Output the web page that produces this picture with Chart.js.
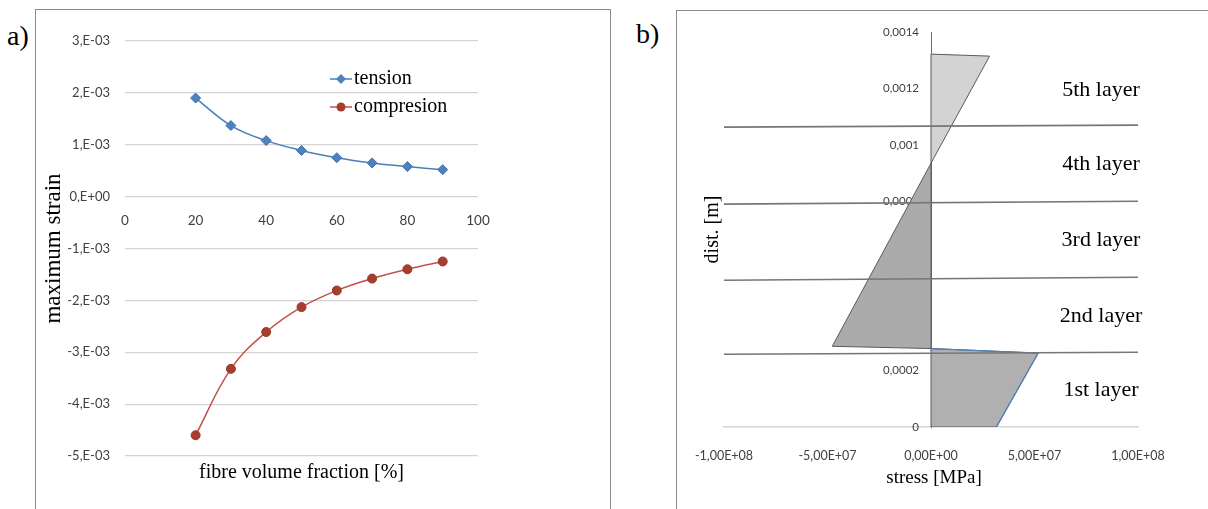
<!DOCTYPE html>
<html>
<head>
<meta charset="utf-8">
<script src="https://cdn.jsdelivr.net/npm/chart.js@4.4.1/dist/chart.umd.min.js"></script>
<style>
  body { margin: 0; background: #fff; width: 1208px; height: 509px; overflow: hidden; position: relative; font-family: "Liberation Serif", "Times New Roman", serif; }
  .frame { position: absolute; border: 1px solid #8c8c8c; box-sizing: border-box; }
  #frameA { left: 35px; top: 9px; width: 576px; height: 540px; }
  #frameB { left: 676px; top: 10px; width: 580px; height: 540px; }
  .tag { position: absolute; font-size: 28px; line-height: 1; color: #000; }
  canvas { position: absolute; }
  #chartA { left: 36px; top: 10px; }
  #chartB { left: 677px; top: 11px; }
</style>
</head>
<body>
<div class="frame" id="frameA"></div>
<div class="frame" id="frameB"></div>
<div class="tag" style="left:7px; top:22px;">a)</div>
<div class="tag" style="left:636px; top:20px;">b)</div>
<canvas id="chartA" width="573" height="499"></canvas>
<canvas id="chartB" width="531" height="498"></canvas>
<script>
// --- panel a data ---
const fibreFraction = [20, 30, 40, 50, 60, 70, 80, 90];
const tensionStrain = [1.90e-3, 1.37e-3, 1.08e-3, 0.89e-3, 0.75e-3, 0.65e-3, 0.58e-3, 0.52e-3];
const compressionStrain = [-4.60e-3, -3.32e-3, -2.61e-3, -2.13e-3, -1.81e-3, -1.58e-3, -1.40e-3, -1.25e-3];
const seriesNames = ["tension", "compresion"];

// --- panel b data ---
// stress profile polygons (stress [Pa], dist [m]), closed
const stressTop = [0, 2.83e7, 0, 0];
const distTop = [1.3216e-3, 1.3145e-3, 0.935e-3, 1.3216e-3];
const stressMid = [0, -4.77e7, 0, 0];
const distMid = [0.935e-3, 0.286e-3, 0.278e-3, 0.935e-3];
const stressLow = [0, 5.18e7, 3.16e7, 0, 0];
const distLow = [0.278e-3, 0.262e-3, 0, 0, 0.278e-3];
// layer boundary lines, from -1E8 to 1E8
const layerLineEnds = [-1e8, 1e8];
const layerLeft = [1.063e-3, 0.790e-3, 0.520e-3, 0.258e-3];
const layerRight = [1.070e-3, 0.800e-3, 0.531e-3, 0.265e-3];
const layerNames = ["1st layer", "2nd layer", "3rd layer", "4th layer", "5th layer"];
const layerBounds = [0, 0.2615e-3, 0.5255e-3, 0.795e-3, 1.0665e-3, 1.32e-3];

const serif = '"Liberation Serif", "Times New Roman", serif';
const sans = 'Lato, "Noto Sans", sans-serif';

function pts(xs, ys) {
  return xs.map((x, i) => ({ x: x, y: ys[i] }));
}

function fmtStrain(v) {
  if (Math.abs(v) < 1e-9) return "0,E+00";
  const n = Math.round(Math.abs(v) * 1000);
  return (v < 0 ? "-" : "") + n + ",E-03";
}

function fmtStress(v) {
  if (Math.abs(v) < 1) return "0,00E+00";
  const a = Math.abs(v);
  const e = Math.floor(Math.log10(a) + 1e-9);
  const m = (a / Math.pow(10, e)).toFixed(2).replace(".", ",");
  return (v < 0 ? "-" : "") + m + "E+" + String(e).padStart(2, "0");
}

function fmtDist(v) {
  if (Math.abs(v) < 1e-9) return "0";
  return String(+v.toFixed(4)).replace(".", ",");
}

// legend + x title drawn inside panel a
const panelAText = {
  id: "panelAText",
  afterDraw(chart) {
    const { ctx, chartArea } = chart;
    ctx.save();
    chart.data.datasets.forEach((ds, i) => {
      const y = chartArea.top + 38 + i * 28;
      const x0 = chartArea.left + 205;
      ctx.strokeStyle = ds.borderColor;
      ctx.lineWidth = ds.borderWidth;
      ctx.beginPath();
      ctx.moveTo(x0, y);
      ctx.lineTo(x0 + 22, y);
      ctx.stroke();
      ctx.fillStyle = ds.pointBackgroundColor;
      ctx.beginPath();
      if (ds.pointStyle === "rectRot") {
        const r = ds.pointRadius;
        ctx.moveTo(x0 + 11, y - r);
        ctx.lineTo(x0 + 11 + r, y);
        ctx.lineTo(x0 + 11, y + r);
        ctx.lineTo(x0 + 11 - r, y);
        ctx.closePath();
      } else {
        ctx.arc(x0 + 11, y, ds.pointRadius, 0, Math.PI * 2);
      }
      ctx.fill();
      ctx.fillStyle = "#000";
      ctx.font = "20px " + serif;
      ctx.textBaseline = "middle";
      ctx.textAlign = "left";
      ctx.fillText(ds.label, x0 + 24, y);
    });
    ctx.font = "20px " + serif;
    ctx.textAlign = "center";
    ctx.textBaseline = "middle";
    ctx.fillText("fibre volume fraction [%]", (chartArea.left + chartArea.right) / 2, chartArea.bottom + 17);
    ctx.restore();
  },
};

// move the value axis of panel b onto stress = 0
const centerYAxis = {
  id: "centerYAxis",
  afterLayout(chart) {
    const y = chart.scales.y;
    const px = chart.scales.x.getPixelForValue(0);
    y.right = px;
    y.left = px - 60;
    y.width = 60;
  },
};

// layer labels + axis titles for panel b
const panelBText = {
  id: "panelBText",
  afterDraw(chart) {
    const { ctx, chartArea, scales } = chart;
    ctx.save();
    ctx.fillStyle = "#000";
    ctx.textAlign = "center";
    ctx.textBaseline = "middle";
    ctx.font = "22px " + serif;
    layerNames.forEach((name, i) => {
      const mid = (layerBounds[i] + layerBounds[i + 1]) / 2;
      ctx.fillText(name, chartArea.right - 37, scales.y.getPixelForValue(mid));
    });
    ctx.font = "19px " + serif;
    ctx.fillText("stress [MPa]", scales.x.getPixelForValue(0) + 3, chartArea.bottom + 51);
    ctx.font = "20px " + serif;
    ctx.translate(chartArea.left - 11, (chartArea.top + chartArea.bottom) / 2);
    ctx.rotate(-Math.PI / 2);
    ctx.fillText("dist. [m]", 0, 0);
    ctx.restore();
  },
};

new Chart(document.getElementById("chartA"), {
  type: "line",
  data: {
    datasets: [
      {
        label: seriesNames[0],
        data: pts(fibreFraction, tensionStrain),
        borderColor: "#4A7EBB",
        borderWidth: 1.5,
        pointStyle: "rectRot",
        pointRadius: 5,
        pointBackgroundColor: "#4F81BD",
        pointBorderColor: "#3F71AD",
        pointBorderWidth: 1,
        tension: 0.4,
        fill: false,
      },
      {
        label: seriesNames[1],
        data: pts(fibreFraction, compressionStrain),
        borderColor: "#C4504B",
        borderWidth: 1.5,
        pointStyle: "circle",
        pointRadius: 4.5,
        pointBackgroundColor: "#A63E2E",
        pointBorderColor: "#98382A",
        pointBorderWidth: 1,
        tension: 0.4,
        fill: false,
      },
    ],
  },
  options: {
    responsive: false,
    animation: false,
    layout: { padding: { left: 0, top: 31, right: 131, bottom: 53 } },
    plugins: { legend: { display: false }, tooltip: { enabled: false } },
    scales: {
      x: {
        type: "linear",
        position: { y: 0 },
        min: 0,
        max: 100,
        ticks: { stepSize: 20, padding: 8, color: "#404040", font: { family: sans, size: 13.5 } },
        grid: { display: false },
        border: { display: false },
      },
      y: {
        position: "left",
        min: -0.005,
        max: 0.003,
        afterFit: (s) => { s.width = 89; },
        ticks: { stepSize: 0.001, padding: 15, color: "#404040", font: { family: sans, size: 13 }, callback: (v) => fmtStrain(v) },
        grid: { color: "#D4D4D4", lineWidth: 1.2, drawTicks: false },
        border: { display: false },
        title: { display: true, text: "maximum strain", color: "#000", font: { family: serif, size: 23 }, padding: { top: 4, bottom: 4 } },
      },
    },
  },
  plugins: [panelAText],
});

const layerDatasets = layerLeft.map((yl, i) => ({
  label: "layer line " + (i + 1),
  data: pts(layerLineEnds, [yl, layerRight[i]]),
  showLine: true,
  borderColor: "#767676",
  borderWidth: 1.6,
  pointRadius: 0,
  fill: false,
  order: 0,
}));

new Chart(document.getElementById("chartB"), {
  type: "scatter",
  data: {
    datasets: [
      ...layerDatasets,
      {
        label: "edge",
        data: pts(stressLow.slice(0, 3), distLow.slice(0, 3)),
        showLine: true,
        borderColor: "#4F81BD",
        borderWidth: 1.3,
        pointRadius: 0,
        fill: false,
        order: 1,
      },
      {
        label: "top",
        data: pts(stressTop, distTop),
        showLine: true,
        borderColor: "#5A5A5A",
        borderWidth: 1,
        backgroundColor: "#D3D3D3",
        pointRadius: 0,
        fill: "shape",
        order: 2,
      },
      {
        label: "mid",
        data: pts(stressMid, distMid),
        showLine: true,
        borderColor: "#5A5A5A",
        borderWidth: 1,
        backgroundColor: "#ABABAB",
        pointRadius: 0,
        fill: "shape",
        order: 2,
      },
      {
        label: "low",
        data: pts(stressLow, distLow),
        showLine: true,
        borderColor: "#5A5A5A",
        borderWidth: 1,
        backgroundColor: "#B0B0B0",
        pointRadius: 0,
        fill: "shape",
        order: 2,
      },
    ],
  },
  options: {
    responsive: false,
    animation: false,
    layout: { padding: { left: 47, top: 21, right: 70, bottom: 0 } },
    plugins: { legend: { display: false }, tooltip: { enabled: false } },
    scales: {
      x: {
        type: "linear",
        position: "bottom",
        min: -1e8,
        max: 1e8,
        afterFit: (s) => { s.height = 82; },
        ticks: { stepSize: 5e7, padding: 13, color: "#404040", font: { family: sans, size: 12.5 }, callback: (v) => fmtStress(v) },
        grid: { display: false },
        border: { display: true, color: "#D4D4D4", width: 1.5 },
      },
      y: {
        type: "linear",
        position: "left",
        min: 0,
        max: 0.0014,
        afterFit: (s) => { s.width = 0; },
        ticks: { stepSize: 0.0002, padding: 12, color: "#404040", font: { family: sans, size: 11.5 }, callback: (v) => fmtDist(v) },
        grid: { display: false, drawTicks: false },
        border: { display: true, color: "#6A6A6A", width: 1 },
      },
    },
  },
  plugins: [centerYAxis, panelBText],
});
</script>
</body>
</html>
